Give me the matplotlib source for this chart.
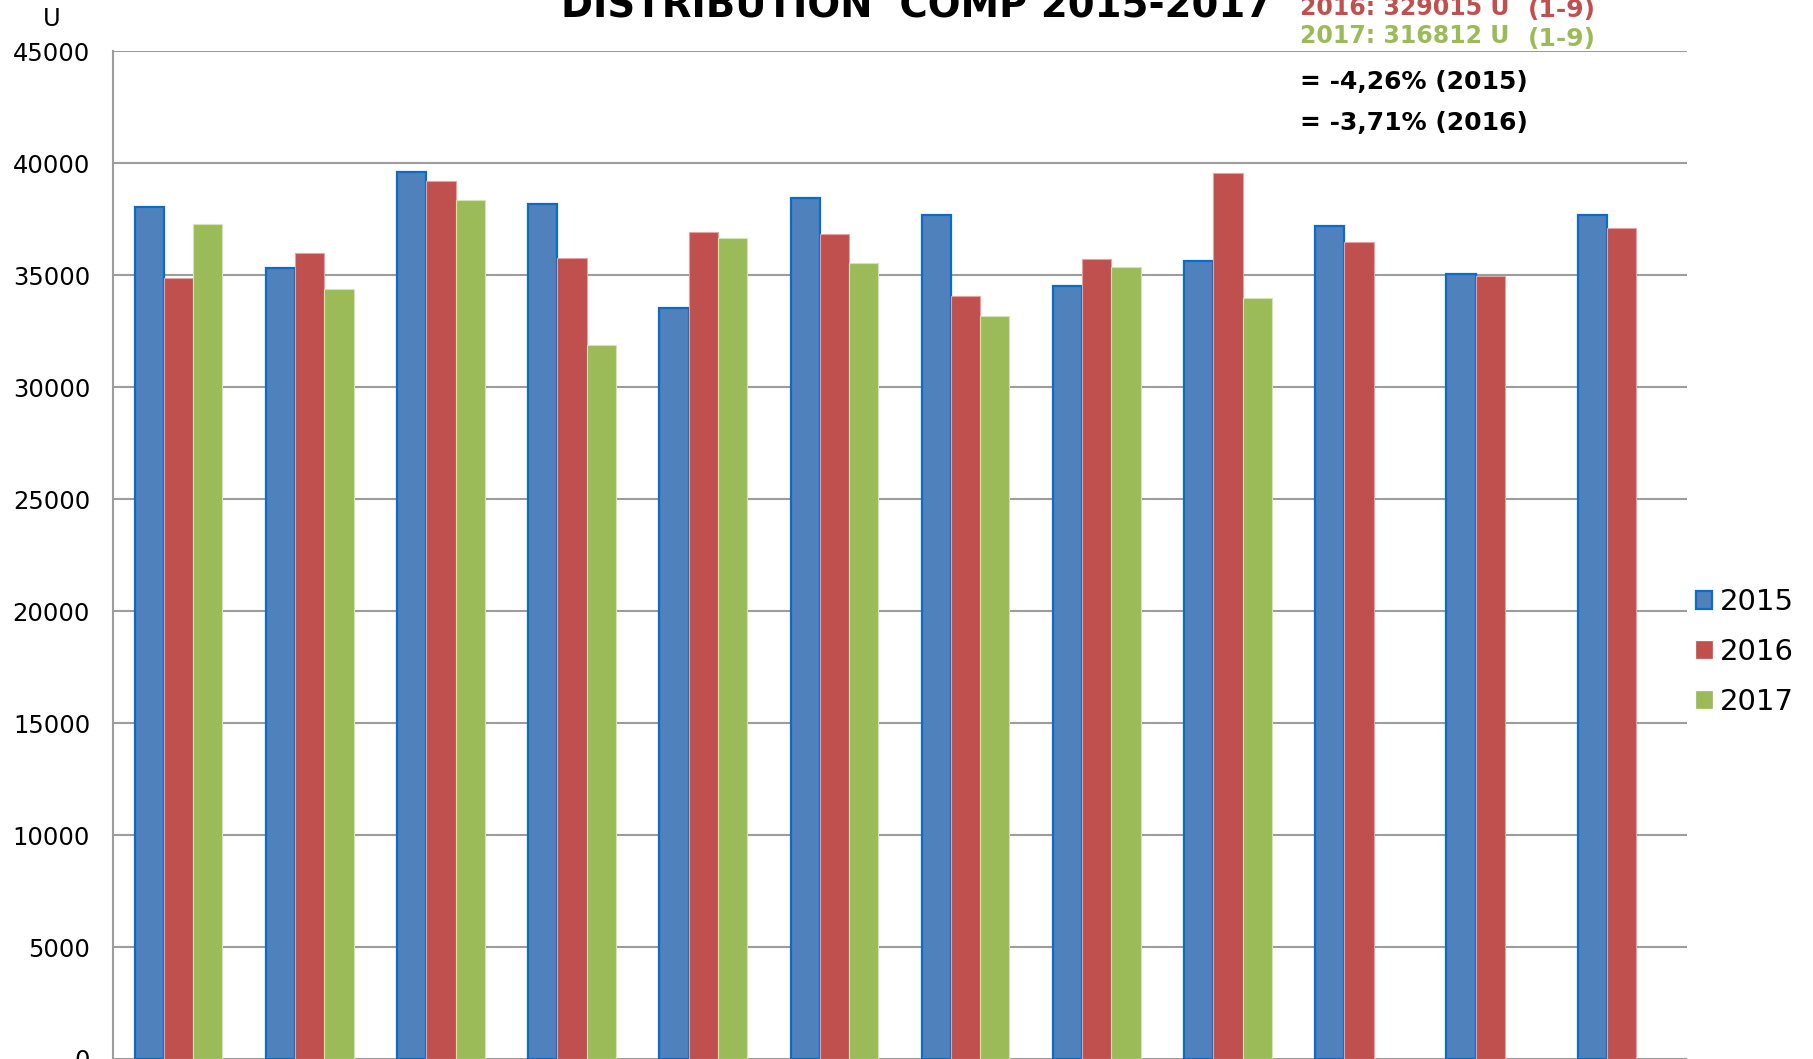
import matplotlib
matplotlib.use("Agg")
import matplotlib.pyplot as plt
import matplotlib.patches as mpatches
import numpy as np

months = list(range(1, 13))
v2015 = [38050, 35310, 39625, 38200, 33555, 38440, 37690, 34510, 35625, 37185, 35060, 37680]
v2016 = [34895, 35980, 39195, 35760, 36920, 36830, 34075, 35715, 39555, 36500, 34980, 37110]
v2017 = [37290, 34375, 38375, 31900, 36665, 35535, 33170, 35385, 34005]
yticks = [0, 5000, 10000, 15000, 20000, 25000, 30000, 35000, 40000, 45000]

title = "DISTRIBUTION  COMP 2015-2017"
notes_red = ("2016: 329015 U", "(1-9)")
notes_green = ("2017: 316812 U", "(1-9)")
notes_black = ["= -4,26% (2015)", "= -3,71% (2016)"]

c15, c16, c17 = "#4F81BD", "#C0504D", "#9BBB59"
e15, e16, e17 = "#0A6CC8", "#E2A3A1", "#D4E3B6"

W, H = 1813, 1059
fig = plt.figure(figsize=(W / 100, H / 100), dpi=100)
ax = fig.add_axes([113 / W, 0.0, (1687 - 113) / W, 1 - 51.3 / H])

x = np.arange(len(months))
bw = 0.223
ax.bar(x[:len(v2015)] - bw, v2015, bw, color=c15, edgecolor=e15, linewidth=1.6, zorder=3)
ax.bar(x[:len(v2016)], v2016, bw, color=c16, edgecolor=e16, linewidth=0.8, zorder=3)
ax.bar(x[:len(v2017)] + bw, v2017, bw, color=c17, edgecolor=e17, linewidth=0.8, zorder=3)

ax.set_xlim(-0.5, 11.5)
ax.set_ylim(0, 45000)
ax.set_yticks(yticks)
ax.set_yticklabels([str(t) for t in yticks], fontsize=17.5)
ax.set_xticks([])
ax.tick_params(axis="y", length=0, pad=16.5)
ax.yaxis.grid(True, color="#9C9C9C", linewidth=1.5, zorder=0)
for s in ["top", "right", "bottom"]:
    ax.spines[s].set_visible(False)
ax.spines["left"].set_color("#9C9C9C")
ax.spines["left"].set_linewidth(1.5)
ax.spines["left"].set_zorder(4)

def fx(px):
    return px / W

def fy(py):
    return 1 - py / H

fig.text(fx(52), fy(18.5), "U", fontsize=17.5, ha="center", va="center")
fig.text(fx(917), fy(18), title, fontsize=27.8, fontweight="bold", ha="center", va="baseline")

fig.text(fx(1300), fy(15), notes_red[0], fontsize=17, fontweight="bold", color=c16, va="baseline")
fig.text(fx(1528), fy(17), notes_red[1], fontsize=18, fontweight="bold", color=c16, va="baseline")
fig.text(fx(1300), fy(43), notes_green[0], fontsize=17, fontweight="bold", color=c17, va="baseline")
fig.text(fx(1528), fy(46), notes_green[1], fontsize=18, fontweight="bold", color=c17, va="baseline")
fig.text(fx(1300), fy(82), notes_black[0], fontsize=18, fontweight="bold", color="black", va="center")
fig.text(fx(1300), fy(123), notes_black[1], fontsize=18, fontweight="bold", color="black", va="center")

handles = [
    mpatches.Patch(facecolor=c15, edgecolor=e15, linewidth=1.6, label="2015"),
    mpatches.Patch(facecolor=c16, edgecolor=c16, linewidth=0.5, label="2016"),
    mpatches.Patch(facecolor=c17, edgecolor=c17, linewidth=0.5, label="2017"),
]
fig.legend(handles=handles, loc="center left", bbox_to_anchor=(fx(1681), fy(652)),
           frameon=False, fontsize=21, handlelength=0.55, handleheight=0.55,
           handletextpad=0.3, labelspacing=0.75, borderpad=0)

fig.savefig("out.png", dpi=100)
